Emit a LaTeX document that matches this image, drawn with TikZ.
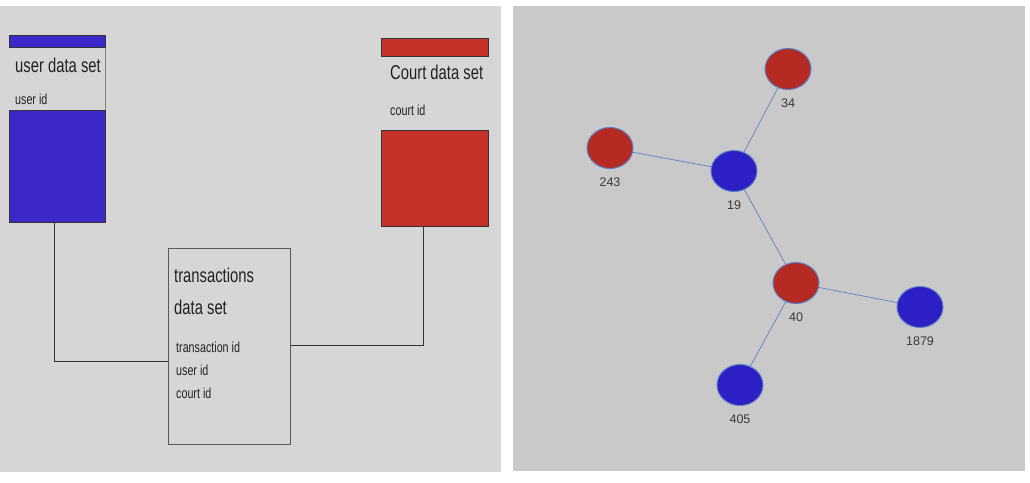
\documentclass[tikz,border=0pt]{standalone}
\usepackage{fontspec}
\setmainfont{Liberation Sans}
\newfontfamily\cond[FakeStretch=0.74]{Liberation Sans}
\usetikzlibrary{shapes.geometric}
\definecolor{lbg}{HTML}{D6D6D6}
\definecolor{rbg}{HTML}{C9C9C9}
\definecolor{ublue}{HTML}{3C28C8}
\definecolor{cred}{HTML}{C4322A}
\definecolor{gred}{HTML}{B52A22}
\definecolor{gblue}{HTML}{2C1FC4}
\definecolor{gedge}{HTML}{5B7FC8}
\definecolor{txt}{HTML}{222222}
\definecolor{lbl}{HTML}{3A3A3A}
\tikzset{
  fillbox/.style={draw=black!80, line width=0.8pt, inner sep=0pt, anchor=north west},
  bigtxt/.style={font=\cond\fontsize{20}{22}\selectfont, text=txt, inner sep=0pt, anchor=base west},
  smalltxt/.style={font=\cond\fontsize{14.5}{16}\selectfont, text=txt, inner sep=0pt, anchor=base west},
  conn/.style={draw=black!80, line width=0.8pt},
  gnode/.style={ellipse, draw=gedge, line width=1pt, minimum width=46pt, minimum height=41pt, inner sep=0pt},
  glabel/.style={font=\fontsize{12.5}{14}\selectfont, text=lbl, inner sep=0pt},
  gline/.style={draw=gedge, line width=0.7pt}
}
\begin{document}
\begin{tikzpicture}[x=1pt,y=-1pt]
\useasboundingbox (0,0) rectangle (1030,482);
\fill[white] (0,0) rectangle (1030,482);
\fill[lbg] (0,6) rectangle (501,472);
\fill[rbg] (513,6) rectangle (1025,471);

% user data set
\node[fillbox, fill=ublue, minimum width=96pt, minimum height=12pt] (utop) at (9,35) {};
\node[fillbox, fill=ublue, minimum width=96pt, minimum height=112pt] (ub) at (9,110) {};
\draw[draw=black!50, line width=0.8pt] (utop.south east) -- (ub.north east);
\node[bigtxt] (ut) at (15,72) {user data set};
\node[smalltxt] (uid) at (15,104) {user id};

% court data set
\node[fillbox, fill=cred, minimum width=107pt, minimum height=18pt] (ctop) at (381,38) {};
\node[fillbox, fill=cred, minimum width=107pt, minimum height=96pt] (cb) at (381,130) {};
\node[bigtxt] (ct) at (390,79) {Court data set};
\node[smalltxt] (cid) at (390,115) {court id};

% transactions
\node[draw=black!65, line width=0.8pt, minimum width=122pt, minimum height=196pt, inner sep=0pt, anchor=north west] (tr) at (168,248) {};
\node[bigtxt] (t1) at (174,282) {transactions};
\node[bigtxt] (t2) at (174,314) {data set};
\node[smalltxt] (t3) at (176,352) {transaction id};
\node[smalltxt] (t4) at (176,375) {user id};
\node[smalltxt] (t5) at (176,398) {court id};

% connectors
\draw[conn] ([xshift=-3pt]ub.south) |- ([yshift=-15pt]tr.west);
\draw[conn] ([yshift=1pt]tr.east) -| ([xshift=-11.5pt]cb.south);

% graph
\node[gnode, fill=gred] (n34) at (788,69) {};
\node[gnode, fill=gred] (n243) at (610,148) {};
\node[gnode, fill=gblue] (n19) at (734,171) {};
\node[gnode, fill=gred] (n40) at (796,283) {};
\node[gnode, fill=gblue] (n1879) at (920,307) {};
\node[gnode, fill=gblue] (n405) at (740,385) {};
\draw[gline] (n34) -- (n19);
\draw[gline] (n243) -- (n19);
\draw[gline] (n19) -- (n40);
\draw[gline] (n40) -- (n1879);
\draw[gline] (n40) -- (n405);
\node[glabel] (l34) at (788,103) {34};
\node[glabel] (l243) at (610,182) {243};
\node[glabel] (l19) at (734,205) {19};
\node[glabel] (l40) at (796,317) {40};
\node[glabel] (l1879) at (920,341) {1879};
\node[glabel] (l405) at (740,419) {405};
\end{tikzpicture}
\end{document}
